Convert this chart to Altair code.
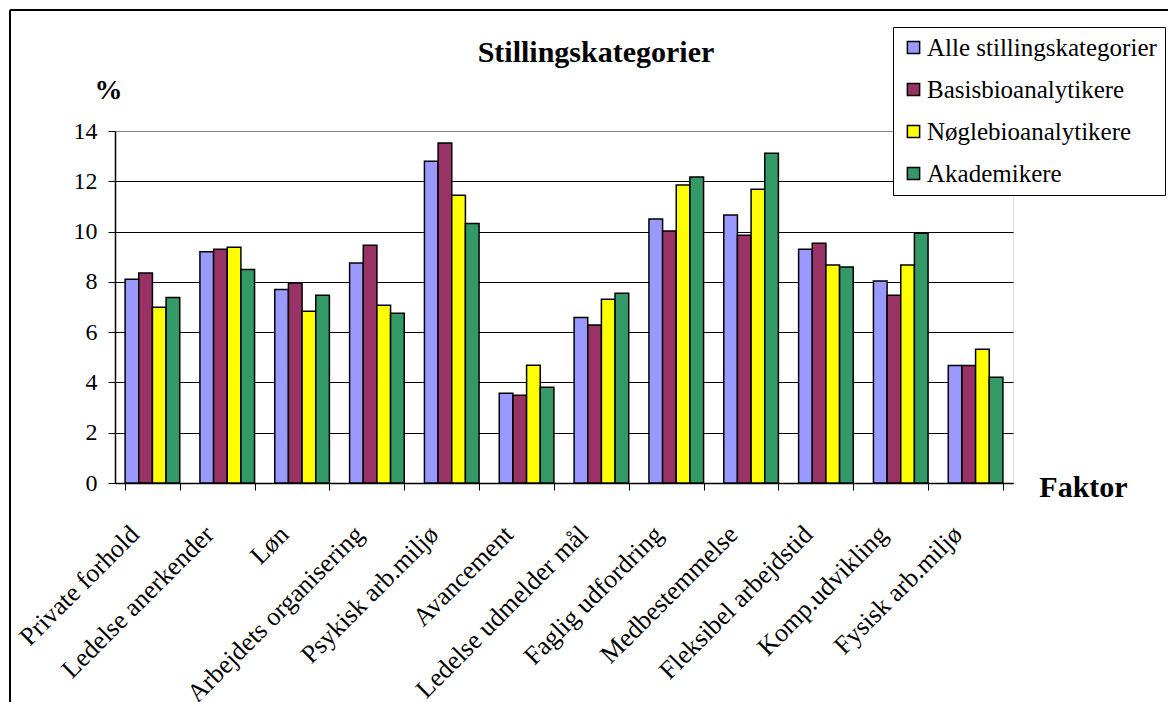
import altair as alt
import pandas as pd

categories = ["Private forhold", "Ledelse anerkender", "Løn", "Arbejdets organisering",
              "Psykisk arb.miljø", "Avancement", "Ledelse udmelder mål", "Faglig udfordring",
              "Medbestemmelse", "Fleksibel arbejdstid", "Komp.udvikling", "Fysisk arb.miljø"]
series = ["Alle stillingskategorier", "Basisbioanalytikere", "Nøglebioanalytikere", "Akademikere"]
alle = [8.1, 9.2, 7.7, 8.75, 12.8, 3.57, 6.58, 10.5, 10.66, 9.3, 8.03, 4.67]
basis = [8.35, 9.3, 7.95, 9.46, 13.52, 3.49, 6.28, 10.02, 9.85, 9.54, 7.47, 4.67]
noegle = [6.99, 9.38, 6.83, 7.07, 11.44, 4.68, 7.31, 11.85, 11.68, 8.67, 8.67, 5.32]
akad = [7.38, 8.49, 7.47, 6.75, 10.32, 3.81, 7.55, 12.17, 13.12, 8.59, 9.93, 4.21]
colors = ["#9999FF", "#993366", "#FFFF00", "#339966"]
y_ticks = [0, 2, 4, 6, 8, 10, 12, 14]

rows = []
for s, vals in zip(series, [alle, basis, noegle, akad]):
    for c, v in zip(categories, vals):
        rows.append({"Faktor": c, "Serie": s, "Pct": v})
df = pd.DataFrame(rows)

FONT = "Liberation Serif"

bars = alt.Chart(df).mark_bar(stroke="black", strokeWidth=1.5).encode(
    x=alt.X("Faktor:N", sort=categories,
            scale=alt.Scale(paddingInner=0.27, paddingOuter=0.135),
            axis=alt.Axis(title="Faktor", labelAngle=-45, labelAlign="right",
                          labelBaseline="middle", labelPadding=40, labelOffset=-18,
                          labelFontSize=26, labelFont=FONT, labelColor="black", labelLimit=0,
                          labelOverlap=False,
                          tickBand="extent", tickSize=7, tickColor="black",
                          domainColor="black", domainWidth=1.5, grid=False,
                          titleFont=FONT, titleFontSize=30, titleFontWeight="bold",
                          titleAngle=0, titleX=968, titleY=4, titleAlign="center",
                          titleBaseline="middle", titleColor="black")),
    xOffset=alt.XOffset("Serie:N", sort=series),
    y=alt.Y("Pct:Q", scale=alt.Scale(domain=[0, 14], nice=False),
            axis=alt.Axis(title="%", values=y_ticks, tickSize=7, tickColor="black",
                          domainColor="black", domainWidth=1.5, labelPadding=11,
                          labelFontSize=24, labelFont=FONT, labelColor="black",
                          grid=True,
                          gridColor={"condition": {"test": "datum.value == 14", "value": "#888888"},
                                     "value": "black"},
                          gridWidth=1.2,
                          titleFont=FONT, titleFontSize=28, titleFontWeight="bold",
                          titleAngle=0, titleX=-7, titleY=-41, titleAlign="center",
                          titleBaseline="middle", titleColor="black")),
    color=alt.Color("Serie:N", sort=series,
                    scale=alt.Scale(domain=series, range=colors),
                    legend=alt.Legend(title=None, orient="none", legendX=778, legendY=-104,
                                      strokeColor="black", fillColor="white", padding=8,
                                      symbolType="square", symbolSize=150,
                                      symbolStrokeColor="black", symbolStrokeWidth=1.5,
                                      labelFont=FONT, labelFontSize=25, labelColor="black",
                                      labelLimit=0, rowPadding=16, labelOffset=1)),
)

frame_left = alt.Chart(df).mark_rule(color="black", strokeWidth=1.5).encode(
    x=alt.value(-105), y=alt.value(-121), y2=alt.value(600))
frame_top = alt.Chart(df).mark_rule(color="black", strokeWidth=1.5).encode(
    x=alt.value(-105), x2=alt.value(1100), y=alt.value(-121))

chart = alt.layer(frame_left, frame_top, bars).properties(
    width=898, height=352,
    autosize=alt.AutoSizeParams(type="none"),
    padding={"left": 115, "top": 131, "right": 155, "bottom": 219},
    title=alt.TitleParams("Stillingskategorier", font=FONT, fontSize=30, fontWeight="bold",
                          color="black", anchor="middle", frame="group", dx=32, offset=14,
                          dy=73),
).configure_view(stroke="#888888", strokeWidth=1.5).configure(background="white")

chart.save("out.html", embed_options={"renderer": "svg", "actions": False})
